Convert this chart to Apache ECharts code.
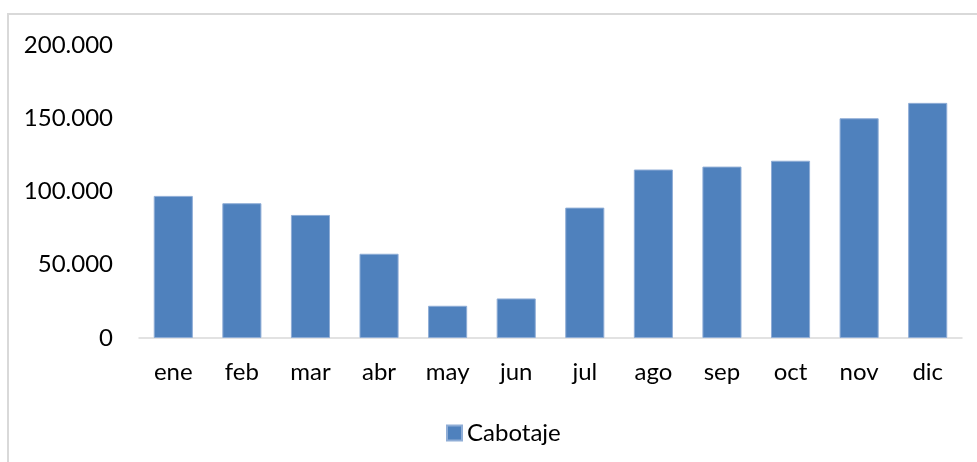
<!DOCTYPE html>
<html>
<head>
<meta charset="utf-8">
<script src="https://cdn.jsdelivr.net/npm/echarts@6/dist/echarts.min.js"></script>
<style>
  html, body { margin: 0; padding: 0; background: #fff; }
  #chart { width: 977px; height: 462px; }
</style>
</head>
<body>
<div id="chart"></div>
<script>
  const MONTHS = ["ene", "feb", "mar", "abr", "may", "jun", "jul", "ago", "sep", "oct", "nov", "dic"];
  const CABOTAJE = [97000, 92000, 84000, 57500, 22000, 27000, 89000, 115000, 117000, 121000, 150000, 160500];
  const SERIES_NAME = "Cabotaje";

  // 150000 -> "150.000"
  function fmtThousands(v) {
    return String(v).replace(/\B(?=(\d{3})+(?!\d))/g, ".");
  }

  const FONT = "Lato, 'Open Sans', sans-serif";

  var chart = echarts.init(document.getElementById("chart"), null, { renderer: "canvas" });

  chart.setOption({
    animation: false,
    backgroundColor: "#fff",
    textStyle: { fontFamily: FONT },
    graphic: [{
      type: "rect",
      shape: { x: 8, y: 14, width: 1000, height: 500 },
      style: { fill: "none", stroke: "#d9d9d9", lineWidth: 2 },
      silent: true
    }],
    grid: { left: 139, right: 15, top: 45, bottom: 124 },
    legend: {
      data: [SERIES_NAME],
      left: 441,
      top: 416,
      itemWidth: 15,
      itemHeight: 15,
      icon: "rect",
      textStyle: { fontFamily: FONT, fontSize: 24, color: "#000" }
    },
    xAxis: {
      type: "category",
      data: MONTHS,
      axisLine: { lineStyle: { color: "#d9d9d9", width: 1.5 } },
      axisTick: { show: false },
      axisLabel: { fontFamily: FONT, fontSize: 24, color: "#000", margin: 22 }
    },
    yAxis: {
      type: "value",
      min: 0,
      max: 200000,
      interval: 50000,
      splitLine: { show: false },
      axisLine: { show: false },
      axisTick: { show: false },
      axisLabel: {
        fontFamily: FONT, fontSize: 24, color: "#000", margin: 26,
        formatter: fmtThousands
      }
    },
    series: [{
      name: SERIES_NAME,
      type: "bar",
      data: CABOTAJE,
      barCategoryGap: "43%",
      itemStyle: { color: "#4f81bd", borderColor: "#8fadd6", borderWidth: 1 }
    }]
  });
</script>
</body>
</html>
